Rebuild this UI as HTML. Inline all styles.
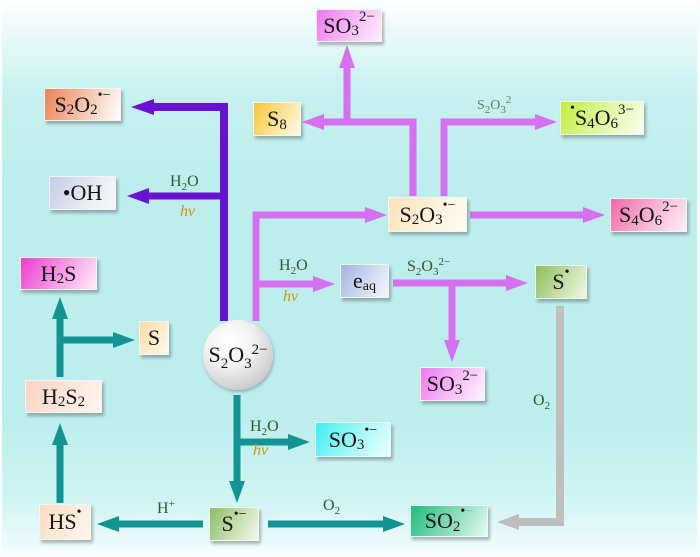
<!DOCTYPE html>
<html><head><meta charset="utf-8">
<style>
html,body{margin:0;padding:0;}
body{width:700px;height:557px;position:relative;overflow:hidden;
background:linear-gradient(to bottom,#ffffff 0px,#f0fbfb 25px,#c8f1f0 90px,#bdeeed 180px,#bdeeed 420px,#cff4f3 500px,#ecfbfb 545px,#ffffff 557px);
font-family:"Liberation Serif",serif;}
.frame{position:absolute;left:0;top:0;width:700px;height:557px;box-sizing:border-box;border-left:2px solid #fbffff;border-right:3px solid #f6fdfd;}
svg{position:absolute;left:0;top:0;}
.bx{position:absolute;box-sizing:border-box;border:1px solid #f4f4f4;box-shadow:2px 3px 3px rgba(0,0,0,0.28);
display:flex;align-items:center;justify-content:center;font-size:22px;line-height:1;color:#141414;white-space:nowrap;}
.b{font-size:15px;position:relative;top:6px;}
.p{font-size:15px;position:relative;top:-8px;}
.d{font-size:14px;position:relative;top:-9px;}
.lb{position:absolute;font-size:16px;line-height:1;color:#33582c;white-space:nowrap;}
.lb .b{font-size:11px;top:4px;}
.lb .p{font-size:11px;top:-6px;}
.hv{position:absolute;font-size:16px;line-height:1;color:#c99a12;font-style:italic;}
.circle{position:absolute;left:203px;top:320px;width:70px;height:70px;border-radius:50%;
background:radial-gradient(circle at 38% 32%,#ffffff 0%,#f3f3f3 35%,#d2d2d2 70%,#a9a9a9 100%);
box-shadow:1px 2px 3px rgba(0,0,0,0.25);display:flex;align-items:center;justify-content:center;font-size:22px;line-height:1;color:#141414;}
</style></head><body>
<div class="frame"></div>
<svg width="700" height="557" viewBox="0 0 700 557">
<g fill="none" stroke-linejoin="miter" stroke-linecap="butt">
<g stroke="#6912d2">
<polyline points="224,321 224,107 150,107" stroke-width="8"/>
<line x1="224" y1="196" x2="146" y2="196" stroke-width="7"/>
</g>
<g stroke="#d670f0" stroke-width="7">
<polyline points="256,321 256,215 367,215"/>
<line x1="256" y1="284" x2="316" y2="284"/>
<polyline points="413,196 413,122 322,122"/>
<line x1="347" y1="122" x2="347" y2="66"/>
<polyline points="444,196 444,122 537,122"/>
<line x1="470" y1="215" x2="585" y2="215"/>
<line x1="393" y1="283" x2="508" y2="283"/>
<line x1="452" y1="283" x2="452" y2="342"/>
</g>
<g stroke="#129494" stroke-width="7">
<line x1="237" y1="395" x2="237" y2="483"/>
<line x1="237" y1="442" x2="290" y2="442"/>
<line x1="203" y1="524" x2="117" y2="524"/>
<line x1="268" y1="524" x2="385" y2="524"/>
<line x1="60" y1="503" x2="60" y2="443"/>
<line x1="60" y1="377" x2="60" y2="317"/>
<line x1="60" y1="340" x2="115" y2="340"/>
</g>
<polyline points="560,306 560,522 517,522" stroke="#bebebe" stroke-width="8"/>
</g>
<g fill="#6912d2">
<polygon points="131,107 154,99 154,115"/>
<polygon points="127,196 149,188 149,204"/>
</g>
<g fill="#d670f0">
<polygon points="387,215 365,207 365,223"/>
<polygon points="335,284 313,276 313,292"/>
<polygon points="302,122 324,114 324,130"/>
<polygon points="347,45 339,68 355,68"/>
<polygon points="557,122 535,114 535,130"/>
<polygon points="605,215 583,207 583,223"/>
<polygon points="528,283 506,275 506,291"/>
<polygon points="452,362 444,340 460,340"/>
</g>
<g fill="#129494">
<polygon points="237,503 229,481 245,481"/>
<polygon points="310,442 288,434 288,450"/>
<polygon points="97,524 119,516 119,532"/>
<polygon points="405,524 383,516 383,532"/>
<polygon points="60,423 52,445 68,445"/>
<polygon points="60,297 52,319 68,319"/>
<polygon points="135,340 113,332 113,348"/>
</g>
<polygon points="497,522 519,514 519,530" fill="#bebebe"/>
</svg>

<div class="bx" style="left:44px;top:88px;width:77px;height:33px;background:linear-gradient(110deg,#e8835a 0%,#f6c8b0 55%,#ffffff 100%);">S<span class="b">2</span>O<span class="b">2</span><span class="d">•−</span></div>
<div class="bx" style="left:49px;top:176px;width:67px;height:34px;background:linear-gradient(120deg,#c6cce6 0%,#e8ebf4 60%,#f8f8fb 100%);">•OH</div>
<div class="bx" style="left:253px;top:102px;width:48px;height:34px;background:linear-gradient(120deg,#f6c436 0%,#fbe49a 55%,#fffbee 100%);">S<span class="b">8</span></div>
<div class="bx" style="left:316px;top:9px;width:66px;height:33px;background:linear-gradient(120deg,#ee78ee 0%,#f7bdf7 55%,#fff0ff 100%);">SO<span class="b">3</span><span class="p">2−</span></div>
<div class="bx" style="left:560px;top:101px;width:84px;height:34px;background:linear-gradient(120deg,#c0ee3c 0%,#e2f8a8 55%,#f8fff0 100%);"><span class="d">•</span>S<span class="b">4</span>O<span class="b">6</span><span class="p">3−</span></div>
<div class="bx" style="left:388px;top:197px;width:79px;height:35px;background:linear-gradient(120deg,#fbe3b8 0%,#fdf2dc 55%,#fffcf4 100%);">S<span class="b">2</span>O<span class="b">3</span><span class="d">•−</span></div>
<div class="bx" style="left:610px;top:198px;width:77px;height:34px;background:linear-gradient(120deg,#ee6aa8 0%,#f8b8d6 55%,#fff0f6 100%);">S<span class="b">4</span>O<span class="b">6</span><span class="p">2−</span></div>
<div class="bx" style="left:20px;top:257px;width:77px;height:33px;background:linear-gradient(120deg,#ee3cd0 0%,#f7a0e6 55%,#ffecfa 100%);">H<span class="b">2</span>S</div>
<div class="bx" style="left:139px;top:321px;width:30px;height:34px;background:linear-gradient(120deg,#fcdca8 0%,#fdeed0 60%,#fff9ee 100%);">S</div>
<div class="bx" style="left:25px;top:380px;width:77px;height:33px;background:linear-gradient(120deg,#f8d4c0 0%,#fbe7dc 55%,#fff6f2 100%);">H<span class="b">2</span>S<span class="b">2</span></div>
<div class="bx" style="left:340px;top:264px;width:49px;height:34px;background:linear-gradient(120deg,#a4b4e0 0%,#d0daf0 55%,#f4f6ff 100%);">e<span class="b" style="font-size:14px;">aq</span></div>
<div class="bx" style="left:420px;top:367px;width:65px;height:34px;background:linear-gradient(120deg,#ee78ee 0%,#f7c0f7 55%,#fff2ff 100%);">SO<span class="b">3</span><span class="p">2−</span></div>
<div class="bx" style="left:535px;top:265px;width:52px;height:34px;background:linear-gradient(120deg,#8cbc5c 0%,#c4e0a8 55%,#f0f8e6 100%);">S<span class="d">•</span></div>
<div class="bx" style="left:315px;top:422px;width:76px;height:35px;background:linear-gradient(120deg,#3cf0f2 0%,#a8f8f8 55%,#eaffff 100%);">SO<span class="b">3</span><span class="d">•−</span></div>
<div class="bx" style="left:39px;top:504px;width:52px;height:36px;background:linear-gradient(120deg,#fcdcc0 0%,#fdebdc 55%,#fff6ee 100%);">HS<span class="d">•</span></div>
<div class="bx" style="left:209px;top:507px;width:50px;height:34px;background:linear-gradient(120deg,#8cbc68 0%,#c6e0b0 55%,#f2f9ea 100%);">S<span class="d">•−</span></div>
<div class="bx" style="left:410px;top:505px;width:78px;height:32px;background:linear-gradient(120deg,#1ebe7e 0%,#8cdcbc 55%,#e4fbf2 100%);">SO<span class="b">2</span><span class="d">•<span style="color:#9ab8a8;">−</span></span></div>

<div class="circle"><span>S<span class="b">2</span>O<span class="b">3</span><span class="p">2−</span></span></div>

<div class="lb" style="left:170px;top:174px;">H<span class="b">2</span>O</div>
<div class="hv" style="left:180px;top:204px;">hv</div>
<div class="lb" style="left:279px;top:258px;">H<span class="b">2</span>O</div>
<div class="hv" style="left:283px;top:289px;">hv</div>
<div class="lb" style="left:407px;top:259px;">S<span class="b">2</span>O<span class="b">3</span><span class="p">2−</span></div>
<div class="lb" style="left:477px;top:99px;font-size:14px;color:#5a865a;">S<span class="b">2</span>O<span class="b">3</span><span class="p">2</span></div>
<div class="lb" style="left:533px;top:393px;">O<span class="b">2</span></div>
<div class="lb" style="left:250px;top:419px;">H<span class="b">2</span>O</div>
<div class="hv" style="left:253px;top:443px;">hv</div>
<div class="lb" style="left:157px;top:501px;">H<span class="p">+</span></div>
<div class="lb" style="left:323px;top:498px;">O<span class="b">2</span></div>
</body></html>
